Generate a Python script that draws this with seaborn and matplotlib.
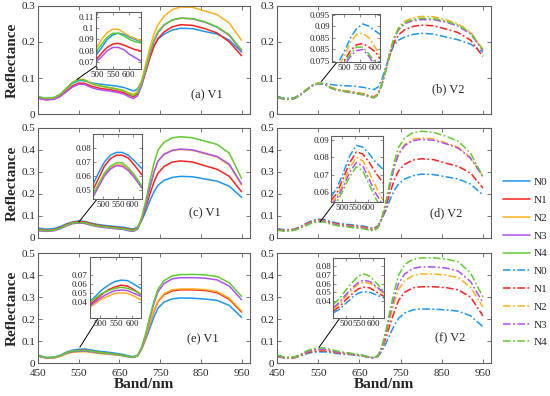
import matplotlib
matplotlib.use('Agg')
import matplotlib.pyplot as plt
import seaborn as sns
from matplotlib.ticker import FixedLocator, FixedFormatter, FuncFormatter

# wavelength grid of the main plots (nm)
W = [450, 470, 490, 505, 520, 535, 550, 565, 580, 595, 610, 625, 640, 660, 675,
     685, 695, 705, 715, 725, 735, 745, 760, 780, 800, 830, 860, 890, 920, 950]

SERIES = ['N0', 'N1', 'N2', 'N3', 'N4']
COLORS = ['#1E96F0', '#FF2020', '#FFB020', '#B050F0', '#60CC30']

# (a) V1  -- N0..N4
a_v1 = [
    [0.048, 0.043, 0.046, 0.055, 0.070, 0.085, 0.093, 0.092, 0.087, 0.084, 0.082, 0.080, 0.078, 0.074, 0.068, 0.064, 0.070, 0.092, 0.125, 0.160, 0.190, 0.208, 0.222, 0.233, 0.238, 0.237, 0.229, 0.222, 0.205, 0.172],
    [0.045, 0.040, 0.042, 0.050, 0.064, 0.078, 0.086, 0.085, 0.078, 0.073, 0.070, 0.068, 0.065, 0.060, 0.052, 0.048, 0.056, 0.082, 0.118, 0.156, 0.188, 0.210, 0.228, 0.242, 0.248, 0.246, 0.237, 0.225, 0.200, 0.162],
    [0.047, 0.043, 0.045, 0.054, 0.071, 0.088, 0.097, 0.095, 0.086, 0.080, 0.077, 0.074, 0.071, 0.065, 0.058, 0.055, 0.064, 0.095, 0.140, 0.185, 0.222, 0.248, 0.272, 0.290, 0.297, 0.296, 0.286, 0.276, 0.252, 0.205],
    [0.044, 0.039, 0.041, 0.049, 0.062, 0.075, 0.083, 0.082, 0.074, 0.069, 0.066, 0.064, 0.061, 0.056, 0.047, 0.043, 0.051, 0.080, 0.122, 0.165, 0.202, 0.226, 0.247, 0.261, 0.266, 0.264, 0.255, 0.241, 0.218, 0.175],
    [0.048, 0.044, 0.046, 0.055, 0.072, 0.088, 0.096, 0.094, 0.085, 0.079, 0.076, 0.073, 0.070, 0.065, 0.055, 0.051, 0.059, 0.088, 0.128, 0.170, 0.206, 0.229, 0.248, 0.261, 0.266, 0.265, 0.256, 0.242, 0.220, 0.178],
]
# (b) V2
b_v2 = [
    [0.049, 0.043, 0.045, 0.053, 0.067, 0.080, 0.086, 0.085, 0.082, 0.080, 0.079, 0.078, 0.077, 0.074, 0.070, 0.068, 0.075, 0.098, 0.135, 0.170, 0.193, 0.205, 0.214, 0.221, 0.224, 0.222, 0.214, 0.206, 0.194, 0.172],
    [0.047, 0.041, 0.043, 0.052, 0.066, 0.079, 0.085, 0.083, 0.074, 0.068, 0.065, 0.063, 0.060, 0.056, 0.050, 0.048, 0.056, 0.085, 0.125, 0.168, 0.200, 0.220, 0.234, 0.243, 0.247, 0.245, 0.236, 0.226, 0.205, 0.160],
    [0.047, 0.041, 0.043, 0.052, 0.067, 0.080, 0.086, 0.084, 0.074, 0.068, 0.065, 0.062, 0.059, 0.055, 0.049, 0.047, 0.055, 0.085, 0.128, 0.177, 0.216, 0.240, 0.258, 0.267, 0.271, 0.270, 0.262, 0.250, 0.228, 0.180],
    [0.046, 0.040, 0.042, 0.051, 0.065, 0.078, 0.084, 0.082, 0.072, 0.066, 0.063, 0.060, 0.057, 0.053, 0.047, 0.045, 0.053, 0.083, 0.126, 0.174, 0.212, 0.234, 0.251, 0.259, 0.262, 0.262, 0.255, 0.244, 0.222, 0.176],
    [0.047, 0.041, 0.043, 0.052, 0.066, 0.079, 0.085, 0.083, 0.073, 0.067, 0.064, 0.061, 0.058, 0.054, 0.048, 0.046, 0.054, 0.084, 0.127, 0.176, 0.214, 0.237, 0.254, 0.262, 0.266, 0.265, 0.258, 0.247, 0.225, 0.178],
]
# (c) V1
c_v1 = [
    [0.045, 0.040, 0.043, 0.052, 0.064, 0.073, 0.077, 0.075, 0.068, 0.062, 0.058, 0.055, 0.052, 0.049, 0.043, 0.041, 0.050, 0.080, 0.122, 0.170, 0.210, 0.240, 0.262, 0.275, 0.280, 0.278, 0.268, 0.258, 0.235, 0.185],
    [0.040, 0.035, 0.038, 0.048, 0.061, 0.071, 0.075, 0.073, 0.065, 0.058, 0.054, 0.051, 0.048, 0.045, 0.039, 0.037, 0.047, 0.085, 0.140, 0.200, 0.255, 0.295, 0.325, 0.345, 0.350, 0.345, 0.328, 0.312, 0.280, 0.210],
    [0.036, 0.032, 0.035, 0.044, 0.057, 0.067, 0.070, 0.068, 0.060, 0.054, 0.050, 0.047, 0.044, 0.041, 0.035, 0.033, 0.044, 0.090, 0.155, 0.230, 0.300, 0.350, 0.382, 0.398, 0.402, 0.398, 0.383, 0.368, 0.330, 0.240],
    [0.033, 0.030, 0.033, 0.042, 0.055, 0.065, 0.068, 0.066, 0.058, 0.052, 0.048, 0.045, 0.042, 0.039, 0.032, 0.030, 0.041, 0.088, 0.155, 0.230, 0.300, 0.350, 0.380, 0.398, 0.404, 0.400, 0.385, 0.370, 0.335, 0.245],
    [0.037, 0.033, 0.036, 0.045, 0.058, 0.068, 0.071, 0.069, 0.061, 0.055, 0.051, 0.048, 0.045, 0.042, 0.035, 0.033, 0.045, 0.095, 0.170, 0.260, 0.340, 0.400, 0.435, 0.455, 0.460, 0.455, 0.440, 0.425, 0.385, 0.270],
]
# (d) V2
d_v2 = [
    [0.042, 0.037, 0.040, 0.050, 0.066, 0.079, 0.085, 0.083, 0.075, 0.068, 0.064, 0.061, 0.058, 0.054, 0.047, 0.045, 0.055, 0.088, 0.130, 0.178, 0.218, 0.245, 0.268, 0.283, 0.290, 0.288, 0.278, 0.268, 0.245, 0.195],
    [0.040, 0.035, 0.038, 0.048, 0.063, 0.076, 0.082, 0.080, 0.071, 0.064, 0.060, 0.057, 0.054, 0.050, 0.043, 0.041, 0.052, 0.090, 0.145, 0.210, 0.265, 0.305, 0.335, 0.354, 0.360, 0.356, 0.340, 0.325, 0.295, 0.227],
    [0.038, 0.033, 0.036, 0.046, 0.060, 0.073, 0.079, 0.077, 0.068, 0.061, 0.057, 0.054, 0.051, 0.047, 0.040, 0.038, 0.050, 0.095, 0.165, 0.250, 0.330, 0.385, 0.425, 0.448, 0.455, 0.450, 0.432, 0.412, 0.365, 0.280],
    [0.037, 0.032, 0.035, 0.045, 0.058, 0.071, 0.077, 0.075, 0.066, 0.059, 0.055, 0.052, 0.049, 0.045, 0.038, 0.036, 0.048, 0.093, 0.163, 0.247, 0.326, 0.380, 0.420, 0.442, 0.448, 0.444, 0.428, 0.408, 0.362, 0.278],
    [0.035, 0.031, 0.034, 0.043, 0.056, 0.068, 0.074, 0.072, 0.063, 0.056, 0.052, 0.049, 0.046, 0.042, 0.035, 0.033, 0.046, 0.095, 0.172, 0.265, 0.350, 0.412, 0.455, 0.478, 0.485, 0.480, 0.462, 0.440, 0.385, 0.280],
]
# (e) V1
e_v1 = [
    [0.036, 0.026, 0.027, 0.036, 0.050, 0.059, 0.063, 0.064, 0.060, 0.055, 0.052, 0.049, 0.045, 0.039, 0.032, 0.030, 0.036, 0.065, 0.110, 0.160, 0.210, 0.250, 0.278, 0.292, 0.296, 0.295, 0.291, 0.285, 0.262, 0.208],
    [0.033, 0.024, 0.025, 0.033, 0.046, 0.054, 0.058, 0.059, 0.055, 0.050, 0.047, 0.044, 0.040, 0.035, 0.029, 0.027, 0.034, 0.068, 0.118, 0.180, 0.235, 0.280, 0.312, 0.328, 0.333, 0.333, 0.330, 0.320, 0.290, 0.232],
    [0.032, 0.023, 0.024, 0.031, 0.042, 0.049, 0.051, 0.052, 0.049, 0.045, 0.042, 0.040, 0.037, 0.033, 0.028, 0.026, 0.033, 0.068, 0.120, 0.182, 0.238, 0.283, 0.316, 0.333, 0.337, 0.337, 0.334, 0.325, 0.295, 0.237],
    [0.033, 0.024, 0.025, 0.033, 0.045, 0.052, 0.054, 0.055, 0.052, 0.048, 0.045, 0.042, 0.039, 0.034, 0.028, 0.026, 0.034, 0.072, 0.132, 0.205, 0.272, 0.325, 0.362, 0.383, 0.388, 0.388, 0.386, 0.378, 0.350, 0.288],
    [0.035, 0.025, 0.026, 0.034, 0.047, 0.055, 0.057, 0.058, 0.055, 0.050, 0.047, 0.044, 0.040, 0.035, 0.029, 0.027, 0.035, 0.074, 0.136, 0.212, 0.282, 0.337, 0.375, 0.396, 0.402, 0.403, 0.401, 0.393, 0.365, 0.303],
]
# (f) V2
f_v2 = [
    [0.030, 0.022, 0.023, 0.031, 0.042, 0.049, 0.051, 0.051, 0.048, 0.044, 0.041, 0.039, 0.036, 0.031, 0.026, 0.024, 0.030, 0.056, 0.092, 0.135, 0.172, 0.204, 0.228, 0.242, 0.246, 0.245, 0.242, 0.236, 0.215, 0.165],
    [0.032, 0.023, 0.024, 0.033, 0.046, 0.053, 0.056, 0.056, 0.052, 0.047, 0.044, 0.041, 0.038, 0.032, 0.026, 0.024, 0.032, 0.066, 0.118, 0.180, 0.235, 0.285, 0.322, 0.342, 0.347, 0.347, 0.343, 0.333, 0.300, 0.215],
    [0.034, 0.024, 0.025, 0.035, 0.049, 0.058, 0.061, 0.061, 0.056, 0.050, 0.046, 0.043, 0.039, 0.033, 0.026, 0.024, 0.033, 0.072, 0.135, 0.210, 0.278, 0.335, 0.375, 0.398, 0.405, 0.405, 0.400, 0.388, 0.345, 0.255],
    [0.035, 0.025, 0.026, 0.036, 0.050, 0.060, 0.063, 0.063, 0.058, 0.051, 0.047, 0.044, 0.040, 0.034, 0.026, 0.024, 0.034, 0.076, 0.145, 0.228, 0.302, 0.362, 0.405, 0.430, 0.437, 0.437, 0.432, 0.418, 0.370, 0.275],
    [0.037, 0.026, 0.028, 0.038, 0.054, 0.065, 0.069, 0.069, 0.063, 0.055, 0.050, 0.046, 0.042, 0.035, 0.027, 0.025, 0.035, 0.080, 0.155, 0.248, 0.330, 0.400, 0.448, 0.472, 0.478, 0.478, 0.473, 0.460, 0.410, 0.300],
]

# inset (zoomed green-peak) data
a_in_x = [497, 515, 532, 550, 567, 585, 602, 620, 638]
a_in = [
    [0.076, 0.083, 0.090, 0.094, 0.0955, 0.0945, 0.092, 0.090, 0.088],
    [0.072, 0.078, 0.083, 0.086, 0.0866, 0.085, 0.083, 0.081, 0.080],
    [0.082, 0.090, 0.096, 0.099, 0.099, 0.096, 0.093, 0.091, 0.089],
    [0.070, 0.075, 0.080, 0.083, 0.083, 0.081, 0.077, 0.074, 0.071],
    [0.079, 0.086, 0.092, 0.0955, 0.0955, 0.093, 0.090, 0.088, 0.087],
]
b_in_x = [461, 480, 500, 520, 540, 560, 580, 600, 616]
b_in = [
    [0.070, 0.074, 0.079, 0.085, 0.089, 0.091, 0.090, 0.088, 0.0865],
    [0.066, 0.070, 0.075, 0.0795, 0.082, 0.0825, 0.081, 0.079, 0.076],
    [0.068, 0.072, 0.077, 0.083, 0.0865, 0.087, 0.085, 0.081, 0.077],
    [0.064, 0.068, 0.073, 0.077, 0.0795, 0.080, 0.077, 0.073, 0.069],
    [0.065, 0.069, 0.074, 0.078, 0.081, 0.081, 0.078, 0.0745, 0.071],
]
c_in_x = [467, 485, 505, 525, 545, 565, 585, 605, 630]
c_in = [
    [0.054, 0.062, 0.070, 0.075, 0.077, 0.077, 0.075, 0.071, 0.0655],
    [0.050, 0.058, 0.067, 0.0725, 0.075, 0.075, 0.073, 0.068, 0.061],
    [0.046, 0.053, 0.061, 0.066, 0.068, 0.068, 0.065, 0.060, 0.052],
    [0.045, 0.052, 0.060, 0.065, 0.0675, 0.067, 0.064, 0.059, 0.0515],
    [0.047, 0.054, 0.062, 0.067, 0.0695, 0.0695, 0.066, 0.061, 0.053],
]
d_in_x = [458, 480, 505, 530, 555, 580, 605, 630, 658]
d_in = [
    [0.057, 0.062, 0.071, 0.081, 0.087, 0.086, 0.082, 0.077, 0.073],
    [0.055, 0.059, 0.068, 0.077, 0.0832, 0.082, 0.077, 0.071, 0.065],
    [0.053, 0.057, 0.065, 0.074, 0.080, 0.078, 0.071, 0.063, 0.055],
    [0.052, 0.056, 0.063, 0.0715, 0.077, 0.075, 0.067, 0.059, 0.052],
    [0.050, 0.054, 0.061, 0.069, 0.0745, 0.072, 0.064, 0.056, 0.049],
]
e_in_x = [467, 485, 505, 525, 545, 565, 585, 605, 626]
e_in = [
    [0.041, 0.047, 0.054, 0.059, 0.063, 0.0645, 0.064, 0.060, 0.0555],
    [0.0375, 0.043, 0.049, 0.054, 0.057, 0.059, 0.058, 0.054, 0.049],
    [0.035, 0.039, 0.044, 0.047, 0.050, 0.0507, 0.050, 0.047, 0.043],
    [0.036, 0.041, 0.046, 0.050, 0.053, 0.0537, 0.053, 0.050, 0.047],
    [0.040, 0.045, 0.050, 0.053, 0.0555, 0.0567, 0.0555, 0.053, 0.049],
]
f_in_x = [452, 475, 500, 525, 545, 565, 590, 615, 642]
f_in = [
    [0.027, 0.031, 0.038, 0.045, 0.049, 0.051, 0.050, 0.047, 0.0437],
    [0.029, 0.034, 0.042, 0.049, 0.054, 0.056, 0.055, 0.050, 0.0456],
    [0.031, 0.037, 0.046, 0.054, 0.059, 0.0618, 0.060, 0.055, 0.0485],
    [0.0328, 0.039, 0.048, 0.056, 0.061, 0.064, 0.062, 0.056, 0.050],
    [0.0365, 0.043, 0.053, 0.062, 0.068, 0.071, 0.068, 0.060, 0.051],
]

sns.set_style('ticks')
plt.rcParams['font.family'] = ['Liberation Serif', 'DejaVu Serif']

SPINE = '#606060'
DASHDOT = (0, (5, 1.6, 1.2, 1.6))

fig = plt.figure(figsize=(5.5, 3.96), dpi=100)

LEFT = [0.069, 0.504]
WIDTH = [0.385, 0.389]
BOTTOM = [0.712, 0.399, 0.083]
HEIGHT = [0.273, 0.278, 0.278]

panels = [
    dict(data=a_v1, ix=a_in_x, iy=a_in, tag='(a) V1', row=0, col=0, ymax=0.3,
         rect=[0.274, 0.417, 0.212, 0.53], ixlim=(497, 638), iylim=(0.064, 0.1145),
         iyt=[0.07, 0.08, 0.09, 0.1, 0.11], iytl=None,
         arrow=((0.184, 0.32), (0.33, 0.52)), txt=(0.80, 0.17)),
    dict(data=b_v2, ix=b_in_x, iy=b_in, tag='(b) V2', row=0, col=1, ymax=0.3,
         rect=[0.257, 0.48, 0.224, 0.45], ixlim=(461, 616), iylim=(0.0745, 0.0955),
         iyt=[0.075, 0.08, 0.085, 0.09, 0.095],
         iytl=['0.075', '0.085', '0.085', '0.09', '0.095'],
         arrow=((0.206, 0.30), (0.30, 0.53)), txt=(0.80, 0.23)),
    dict(data=c_v1, ix=c_in_x, iy=c_in, tag='(c) V1', row=1, col=0, ymax=0.5,
         rect=[0.26, 0.355, 0.23, 0.59], ixlim=(467, 630), iylim=(0.0435, 0.0903),
         iyt=[0.05, 0.06, 0.07, 0.08], iytl=None,
         arrow=((0.193, 0.145), (0.34, 0.50)), txt=(0.79, 0.22)),
    dict(data=d_v2, ix=d_in_x, iy=d_in, tag='(d) V2', row=1, col=1, ymax=0.5,
         rect=[0.252, 0.327, 0.243, 0.60], ixlim=(458, 658), iylim=(0.054, 0.0925),
         iyt=[0.06, 0.07, 0.08, 0.09], iytl=None,
         arrow=((0.20, 0.145), (0.313, 0.436)), txt=(0.79, 0.22)),
    dict(data=e_v1, ix=e_in_x, iy=e_in, tag='(e) V1', row=2, col=0, ymax=0.5,
         rect=[0.245, 0.41, 0.24, 0.555], ixlim=(467, 626), iylim=(0.023, 0.090),
         iyt=[0.04, 0.05, 0.06, 0.07], iytl=None,
         arrow=((0.198, 0.145), (0.311, 0.49)), txt=(0.78, 0.22)),
    dict(data=f_v2, ix=f_in_x, iy=f_in, tag='(f) V2', row=2, col=1, ymax=0.5,
         rect=[0.262, 0.41, 0.238, 0.545], ixlim=(452, 642), iylim=(0.0213, 0.0887),
         iyt=[0.04, 0.05, 0.06, 0.07, 0.08], iytl=None,
         arrow=((0.196, 0.145), (0.33, 0.51)), txt=(0.81, 0.23)),
]

fmt = FuncFormatter(lambda v, p: '%g' % round(v, 4))
axes = {}

for p in panels:
    r, c = p['row'], p['col']
    ax = fig.add_axes([LEFT[c], BOTTOM[r], WIDTH[c], HEIGHT[r]])
    axes[(r, c)] = ax
    ls = '-' if c == 0 else DASHDOT
    for vals, col in zip(p['data'], COLORS):
        sns.lineplot(x=W, y=vals, ax=ax, color=col, linestyle=ls, linewidth=1.1,
                     estimator=None, sort=False, legend=False)
    ax.set_xlim(450, 970)
    ax.set_ylim(0, p['ymax'])
    ax.set_xticks([450, 550, 650, 750, 850, 950])
    ax.set_yticks([0.1 * i for i in range(int(round(p['ymax'] * 10)) + 1)])
    ax.yaxis.set_major_formatter(fmt)
    ax.tick_params(direction='in', top=True, right=True, length=3, width=0.6,
                   labelsize=8, pad=2, color=SPINE, labelcolor='#262626')
    ax.tick_params(axis='x', pad=4)
    for s in ax.spines.values():
        s.set_color(SPINE)
        s.set_linewidth(0.8)
    if r < 2:
        ax.set_xticklabels([])
        ax.set_xlabel('')
    else:
        ax.set_xlabel('Band/nm', fontsize=11, fontweight='bold', labelpad=0)
    if c == 0:
        ax.set_ylabel('Reflectance', fontsize=11, fontweight='bold', labelpad=2)
    else:
        ax.set_ylabel('')
    ax.text(p['txt'][0], p['txt'][1], p['tag'], transform=ax.transAxes,
            fontsize=9, ha='center', va='center')

    # inset
    ins = ax.inset_axes(p['rect'])
    for vals, col in zip(p['iy'], COLORS):
        sns.lineplot(x=p['ix'], y=vals, ax=ins, color=col, linestyle=ls, linewidth=1.1,
                     estimator=None, sort=False, legend=False)
    ins.set_xlim(*p['ixlim'])
    ins.set_ylim(*p['iylim'])
    ins.xaxis.set_major_locator(FixedLocator([500, 550, 600]))
    ins.yaxis.set_major_locator(FixedLocator(p['iyt']))
    if p['iytl'] is not None:
        ins.yaxis.set_major_formatter(FixedFormatter(p['iytl']))
    else:
        ins.yaxis.set_major_formatter(fmt)
    ins.set_xlabel('')
    ins.set_ylabel('')
    ins.tick_params(direction='in', top=True, right=True, length=2, width=0.5,
                    labelsize=6.5, pad=1.5, color=SPINE, labelcolor='#262626')
    for s in ins.spines.values():
        s.set_color(SPINE)
        s.set_linewidth(0.8)
    ax.annotate('', xy=p['arrow'][1], xytext=p['arrow'][0], xycoords='axes fraction',
                textcoords='axes fraction',
                arrowprops=dict(arrowstyle='-|>', color='black', lw=0.7,
                                mutation_scale=8, shrinkA=0, shrinkB=0))

handles = axes[(0, 0)].get_lines()[:5] + axes[(0, 1)].get_lines()[:5]
labels = SERIES + SERIES
fig.legend(handles, labels, loc='upper left', bbox_to_anchor=(0.897, 0.577),
           frameon=False, fontsize=8, handlelength=2.4, handletextpad=0.3,
           labelspacing=0.72, borderpad=0.4)

fig.savefig('out.png', dpi=100)
